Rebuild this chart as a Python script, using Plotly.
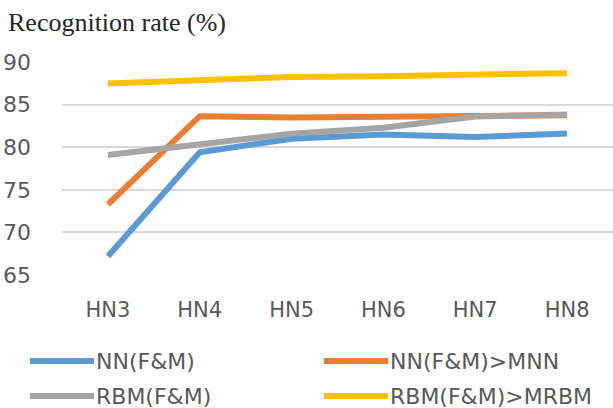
import plotly.graph_objects as go

categories = ["HN3", "HN4", "HN5", "HN6", "HN7", "HN8"]
nn_fm = [67.2, 79.4, 81.0, 81.5, 81.2, 81.6]
nn_fm_mnn = [73.3, 83.65, 83.5, 83.6, 83.7, 83.75]
rbm_fm = [79.1, 80.3, 81.6, 82.3, 83.6, 83.85]
rbm_fm_mrbm = [87.5, 87.95, 88.25, 88.35, 88.55, 88.7]

series_names = ["NN(F&M)", "NN(F&M)>MNN", "RBM(F&M)", "RBM(F&M)>MRBM"]
series_values = [nn_fm, nn_fm_mnn, rbm_fm, rbm_fm_mrbm]
colors = ["#5B9BD5", "#ED7D31", "#A5A5A5", "#FFC000"]
y_ticks = [65, 70, 75, 80, 85, 90]

W, H = 613, 408
L, R, T, B = 62, 0, 62, 133
PW, PH = W - L - R, H - T - B

def px(x):
    return (x - L) / PW

def py(y):
    return (H - B - y) / PH

fig = go.Figure()
for name, vals, col in zip(series_names, series_values, colors):
    fig.add_trace(go.Scatter(x=categories, y=vals, mode="lines", name=name,
                             line=dict(color=col, width=6), showlegend=False,
                             hoverinfo="skip"))

sans = "DejaVu Sans, Liberation Sans, sans-serif"
txt = "#595959"

# custom legend (2 columns x 2 rows)
legend_pos = [(30, 361), (324, 361), (30, 396), (324, 396)]
shapes, annots = [], []
for (lx, ly), name, col in zip(legend_pos, series_names, colors):
    shapes.append(dict(type="line", xref="paper", yref="paper",
                       x0=px(lx), x1=px(lx + 64), y0=py(ly), y1=py(ly),
                       line=dict(color=col, width=6)))
    annots.append(dict(text=name, xref="paper", yref="paper", x=px(lx + 64), y=py(ly),
                       xanchor="left", yanchor="middle", showarrow=False,
                       font=dict(family=sans, size=22, color=txt)))

fig.update_layout(
    width=W, height=H,
    margin=dict(l=L, r=R, t=T, b=B, autoexpand=False),
    paper_bgcolor="white", plot_bgcolor="white",
    font=dict(family=sans, size=22, color=txt),
    title=dict(text="Recognition rate (%)", x=8 / W, xanchor="left", y=1 - 22 / H, yanchor="middle",
               font=dict(family="Liberation Serif, Times New Roman, serif", size=26, color="#262626")),
    xaxis=dict(type="category", showgrid=False, showline=False, zeroline=False,
               range=[-0.5, 5.5], ticklabelstandoff=20, tickfont=dict(family=sans, size=21, color=txt)),
    yaxis=dict(range=[65, 90.01], tickvals=y_ticks, showgrid=True, gridcolor="#D9D9D9",
               gridwidth=1.5, zeroline=False, showline=False, ticklabelstandoff=30,
               tickfont=dict(family=sans, size=22, color=txt)),
    shapes=shapes, annotations=annots,
    showlegend=False,
)

fig.write_html("out.html", config={"displayModeBar": False},
               post_script="document.body.style.margin='0';")
